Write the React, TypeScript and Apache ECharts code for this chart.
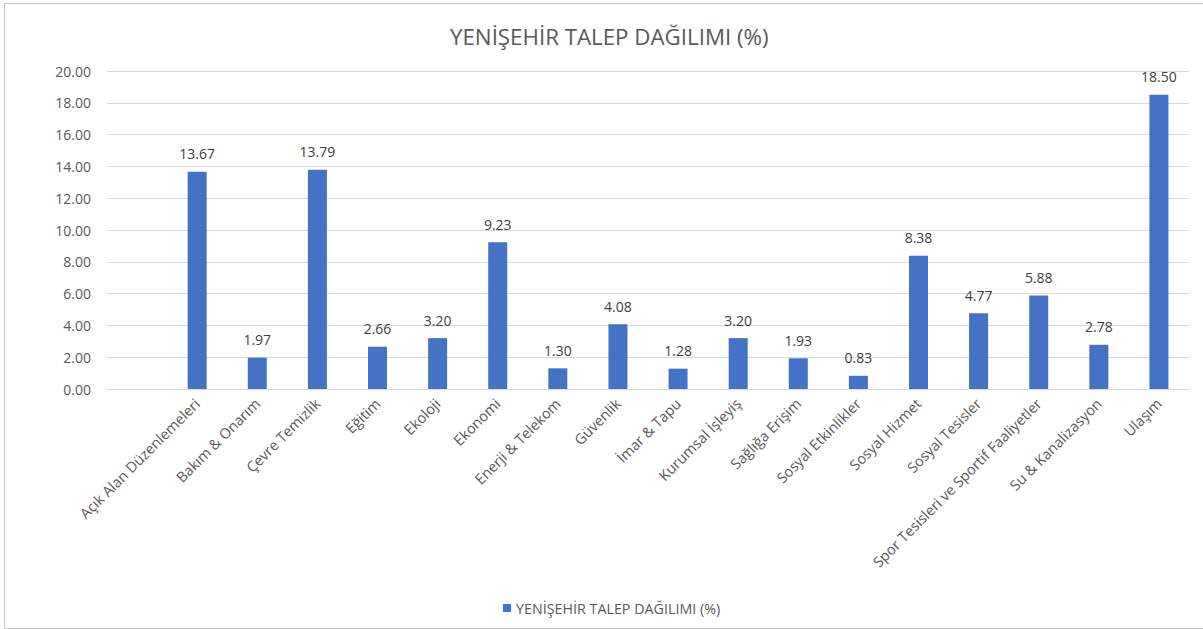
import React, { useEffect, useRef } from "react";
import * as echarts from "echarts";

const title = "YENİŞEHİR TALEP DAĞILIMI (%)";
const seriesName = "YENİŞEHİR TALEP DAĞILIMI (%)";

// The original chart has an empty leading category slot
const categories = [
  "",
  "Açık Alan Düzenlemeleri",
  "Bakım & Onarım",
  "Çevre Temizlik",
  "Eğitim",
  "Ekoloji",
  "Ekonomi",
  "Enerji & Telekom",
  "Güvenlik",
  "İmar & Tapu",
  "Kurumsal İşleyiş",
  "Sağlığa Erişim",
  "Sosyal Etkinlikler",
  "Sosyal Hizmet",
  "Sosyal Tesisler",
  "Spor Tesisleri ve Sportif Faaliyetler",
  "Su & Kanalizasyon",
  "Ulaşım",
];

const values: (number | null)[] = [
  null,
  13.67, 1.97, 13.79, 2.66, 3.2, 9.23, 1.3, 4.08, 1.28, 3.2, 1.93, 0.83, 8.38,
  4.77, 5.88, 2.78, 18.5,
];

const yMin = 0;
const yMax = 20;
const yInterval = 2;

export default function App() {
  const ref = useRef<HTMLDivElement>(null);

  useEffect(() => {
    if (!ref.current) return;
    const chart = echarts.init(ref.current, undefined, { renderer: "svg" });
    const font = "'Open Sans', 'Noto Sans', sans-serif";
    chart.setOption({
      animation: false,
      backgroundColor: "#ffffff",
      textStyle: { fontFamily: font },
      title: {
        text: title,
        left: 445,
        top: 20,
        textStyle: {
          fontFamily: font,
          fontSize: 22.3,
          fontWeight: "normal",
          color: "#595959",
        },
      },
      graphic: [
        {
          type: "rect",
          shape: { x: 4.5, y: 3.5, width: 1215, height: 625 },
          style: { fill: "none", stroke: "#c8c8c8", lineWidth: 1 },
          silent: true,
          z: -1,
        },
      ],
      legend: {
        show: true,
        top: 596,
        left: 498,
        icon: "rect",
        itemWidth: 8,
        itemHeight: 8,
        itemGap: 10,
        textStyle: { fontFamily: font, fontSize: 14.3, color: "#595959" },
        data: [seriesName],
      },
      grid: { left: 107, top: 71, width: 1082, height: 318, containLabel: false },
      xAxis: {
        type: "category",
        data: categories,
        axisTick: { show: false },
        axisLine: { show: true, lineStyle: { color: "#d9d9d9", width: 1 } },
        axisLabel: {
          interval: 0,
          rotate: 45,
          margin: 12,
          fontFamily: font,
          fontSize: 14.5,
          color: "#595959",
        },
      },
      yAxis: {
        type: "value",
        min: yMin,
        max: yMax,
        interval: yInterval,
        axisLine: { show: false },
        axisTick: { show: false },
        splitLine: { lineStyle: { color: "#d9d9d9", width: 1 } },
        axisLabel: {
          margin: 16,
          fontFamily: font,
          fontSize: 14,
          color: "#595959",
          formatter: (v: number) => v.toFixed(2),
        },
      },
      series: [
        {
          name: seriesName,
          type: "bar",
          data: values,
          barWidth: 19,
          itemStyle: { color: "#4472C4" },
          label: {
            show: true,
            position: "top",
            distance: 11,
            fontFamily: font,
            fontSize: 14,
            color: "#404040",
            formatter: (p: any) => (p.value == null ? "" : Number(p.value).toFixed(2)),
          },
        },
      ],
    });
    return () => chart.dispose();
  }, []);

  return (
    <div
      ref={ref}
      style={{ position: "fixed", left: 0, top: 0, width: 1203, height: 629 }}
    />
  );
}
